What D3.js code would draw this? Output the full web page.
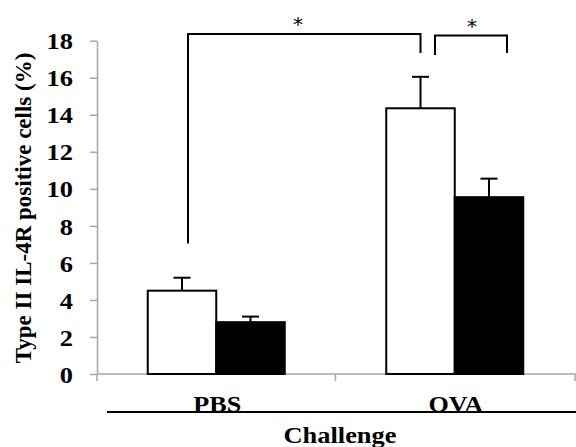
<!DOCTYPE html>
<html>
<head>
<meta charset="utf-8">
<script src="https://cdn.jsdelivr.net/npm/d3@7"></script>
<style>
  body { margin: 0; background: #fff; }
  svg { display: block; }
  text { font-family: "Liberation Serif", "Times New Roman", serif; font-weight: bold; }
</style>
</head>
<body>
<svg id="chart" width="576" height="447"></svg>
<script>
// data
var challenges = ["PBS", "OVA"];
var groups = ["white", "black"];
var means = [[4.5, 2.8], [14.35, 9.55]];
var errors = [[0.7, 0.3], [1.7, 1.0]];
var yTicks = [0, 2, 4, 6, 8, 10, 12, 14, 16, 18];

var svg = d3.select("#chart");
var x0 = 97, x1 = 576, yTop = 40.7, yBot = 374;

var y = d3.scaleLinear().domain([0, 18]).range([yBot, yTop]);
var x = d3.scaleBand().domain(challenges).range([x0, x1 - 2]);
var xg = d3.scaleBand().domain(groups).range([0, 137]);

// y axis
var gy = svg.append("g").attr("transform", "translate(" + x0 + ",0)")
    .call(d3.axisLeft(y).tickValues(yTicks).tickSize(7).tickSizeOuter(0));
gy.select(".domain").attr("stroke", "#a6a6a6").attr("stroke-width", 1.5);
gy.selectAll(".tick line").attr("stroke", "#a6a6a6").attr("stroke-width", 1.5);
gy.selectAll(".tick text")
    .attr("x", 0)
    .attr("dy", "0.34em")
    .attr("transform", "translate(-24,0) scale(1.1,1)")
    .attr("fill", "#000").style("font-size", "24px")
    .style("font-family", "Liberation Serif").style("font-weight", "bold");

// x axis
var gx = svg.append("g").attr("transform", "translate(0," + yBot + ")");
gx.append("line").attr("x1", x0).attr("x2", x1).attr("stroke", "#a6a6a6").attr("stroke-width", 1.5);
gx.selectAll("line.tk")
    .data(challenges.map(function (c) { return x(c); }).concat([x1 - 1]))
    .enter().append("line")
    .attr("class", "tk")
    .attr("x1", function (d) { return d; }).attr("x2", function (d) { return d; })
    .attr("y1", 0).attr("y2", 7)
    .attr("stroke", "#a6a6a6").attr("stroke-width", 1.5);

// bars
var cat = svg.selectAll("g.cat")
    .data(challenges)
    .enter().append("g")
    .attr("class", "cat")
    .attr("transform", function (d) {
        return "translate(" + (x(d) + x.bandwidth() / 2 - 68.5) + ",0)";
    });

cat.selectAll("rect")
    .data(function (d, i) { return means[i]; })
    .enter().append("rect")
    .attr("x", function (d, j) { return xg(groups[j]); })
    .attr("y", function (d) { return y(d); })
    .attr("width", xg.bandwidth())
    .attr("height", function (d) { return y(0) - y(d); })
    .attr("fill", function (d, j) { return groups[j] === "white" ? "#fff" : "#000"; })
    .attr("stroke", "#000")
    .attr("stroke-width", 2);

// error bars
cat.each(function (c, i) {
    var g = d3.select(this);
    means[i].forEach(function (m, j) {
        var cx = xg(groups[j]) + xg.bandwidth() / 2;
        g.append("line")
            .attr("x1", cx).attr("x2", cx)
            .attr("y1", y(m)).attr("y2", y(m + errors[i][j]))
            .attr("stroke", "#000").attr("stroke-width", 2);
        g.append("line")
            .attr("x1", cx - 8.5).attr("x2", cx + 8.5)
            .attr("y1", y(m + errors[i][j])).attr("y2", y(m + errors[i][j]))
            .attr("stroke", "#000").attr("stroke-width", 2);
    });
});

// significance brackets
function bracket(xa, xb, ytop, ya, yb, label, lx) {
    svg.append("path")
        .attr("d", "M" + xa + "," + ya + "V" + ytop + "H" + xb + "V" + yb)
        .attr("fill", "none").attr("stroke", "#000").attr("stroke-width", 2);
    svg.append("text")
        .attr("x", lx).attr("y", ytop - 3)
        .attr("text-anchor", "middle")
        .style("font-size", "20px").style("font-weight", "normal")
        .style("font-family", "DejaVu Sans")
        .text(label);
}
bracket(188, 420.5, 34, y(7.05), 53, "*", 298);
bracket(435, 507, 35.5, 55, 53, "*", 472);

// category labels and group line
svg.append("line")
    .attr("x1", 107).attr("x2", 576).attr("y1", 412).attr("y2", 412)
    .attr("stroke", "#000").attr("stroke-width", 2);
svg.selectAll("text.cat")
    .data(challenges)
    .enter().append("text")
    .attr("class", "cat")
    .attr("transform", function (d) {
        return "translate(" + (x(d) + x.bandwidth() / 2 + 1) + ",412) scale(1.09,1)";
    })
    .attr("text-anchor", "middle")
    .style("font-size", "24px")
    .text(function (d) { return d; });

svg.append("text")
    .attr("transform", "translate(340,443) scale(1.1,1)")
    .attr("text-anchor", "middle")
    .style("font-size", "24px")
    .text("Challenge");

svg.append("text")
    .attr("transform", "translate(31,208) rotate(-90)")
    .attr("text-anchor", "middle")
    .style("font-size", "23px")
    .text("Type II IL-4R positive cells (%)");
</script>
</body>
</html>
